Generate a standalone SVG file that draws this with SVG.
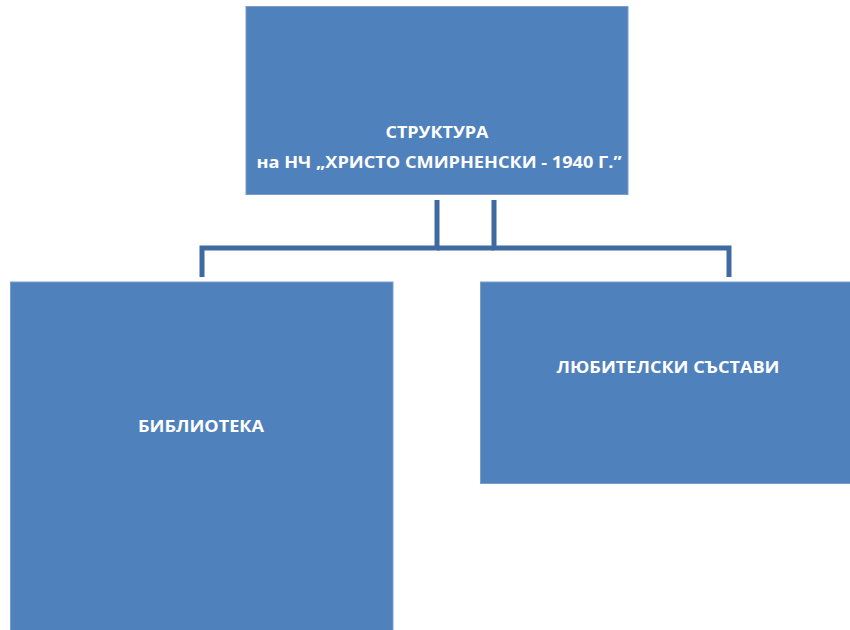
<svg xmlns="http://www.w3.org/2000/svg" width="850" height="630" viewBox="0 0 850 630">
  <style>
    .box { fill: #4F81BD; stroke: #7A9DCC; stroke-width: 1; }
    .lbl { fill: #FFFFFF; font-family: "Open Sans", "Liberation Sans", Arial, sans-serif; font-weight: bold; font-size: 16.5px; text-anchor: middle; }
    .conn { fill: none; stroke: #3E6A9F; stroke-width: 5; stroke-linejoin: miter; stroke-linecap: butt; }
  </style>
  <rect width="850" height="630" fill="#FFFFFF"/>
  <g id="connectors">
    <path class="conn" d="M437,200 V248 H202 V277"/>
    <path class="conn" d="M494,200 V248 H729 V277"/>
    <path class="conn" d="M437,248 H494"/>
  </g>
  <g id="node-structure">
    <rect class="box" x="246" y="6.5" width="382" height="188"/>
    <text class="lbl" x="437" y="137.5" textLength="103" lengthAdjust="spacingAndGlyphs">СТРУКТУРА</text>
    <text class="lbl" x="439" y="168" textLength="365" lengthAdjust="spacingAndGlyphs">на НЧ „ХРИСТО СМИРНЕНСКИ - 1940 Г.”</text>
  </g>
  <g id="node-library">
    <rect class="box" x="10.5" y="282" width="382.5" height="350"/>
    <text class="lbl" x="201" y="432" textLength="126" lengthAdjust="spacingAndGlyphs">БИБЛИОТЕКА</text>
  </g>
  <g id="node-amateur">
    <rect class="box" x="480.5" y="282" width="372" height="201.5"/>
    <text class="lbl" x="668" y="372.5" textLength="223" lengthAdjust="spacingAndGlyphs">ЛЮБИТЕЛСКИ СЪСТАВИ</text>
  </g>
</svg>
